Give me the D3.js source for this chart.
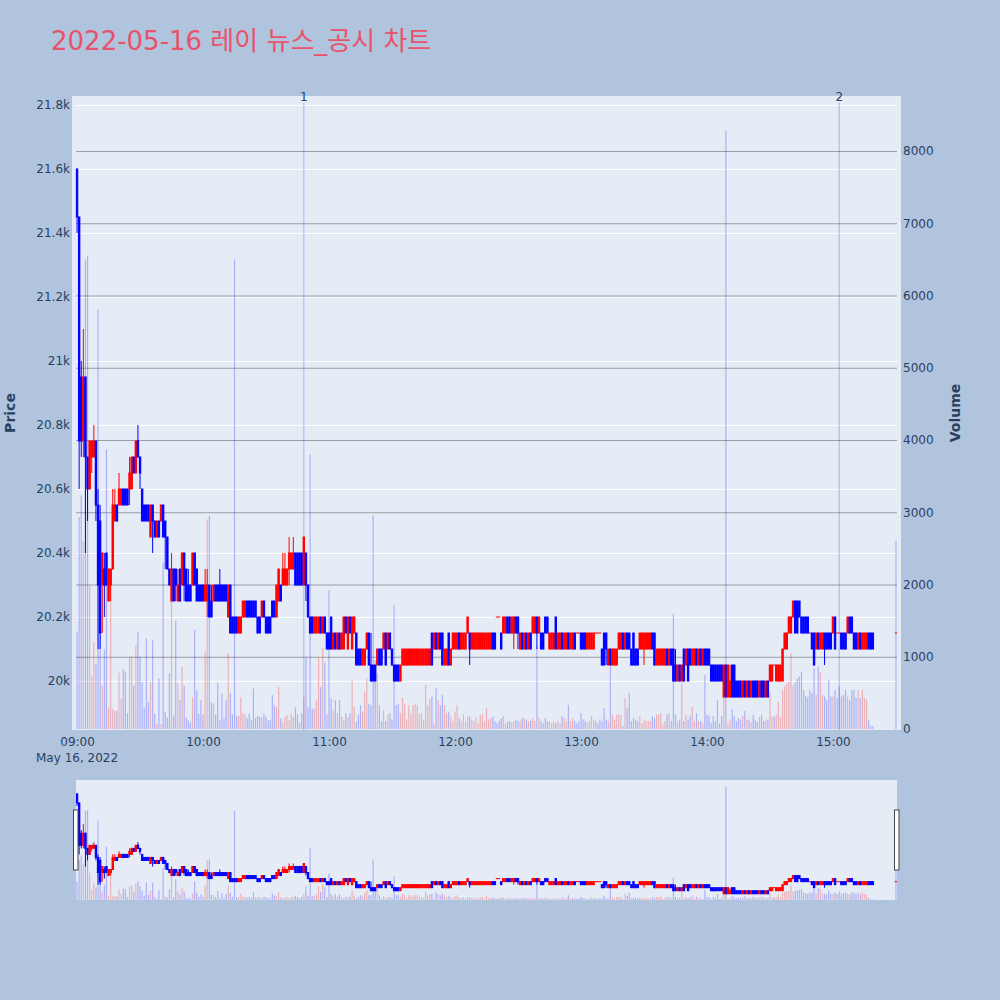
<!DOCTYPE html>
<html><head><meta charset="utf-8">
<script src="https://cdn.jsdelivr.net/npm/d3@7"></script>
<style>body{margin:0;background:#b0c4de}svg{display:block}</style>
</head><body>
<svg id="c" width="1000" height="1000"></svg>
<script>
// ---- data (1-minute candles, 2022-05-16, from 09:00) ----
const open = [
21600,21450,20950,20750,20950,20700,20600,20700,20700,20750,
20550,20500,20300,20350,20400,20250,20300,20350,20500,20550,
20550,20550,20600,20600,20600,20600,20600,20700,20650,20750,
20700,20600,20550,20550,20550,20450,20550,20500,20450,20500,
20500,20550,20500,20450,20350,20250,20350,20350,20250,20350,
20300,20400,20350,20300,20300,20300,20400,20350,20300,20300,
20300,20250,20250,20300,20250,20250,20300,20300,20300,20300,
20300,20300,20200,20300,20200,20200,20200,20150,20150,20200,
20200,20250,20250,20250,20250,20250,20200,20200,20200,20250,
20200,20200,20200,20250,20250,20200,20250,20300,20300,20300,
20300,20350,20350,20350,20400,20400,20400,20400,20300,20400,
20300,20200,20200,20150,20150,20150,20200,20150,20200,20150,
20150,20200,20100,20150,20100,20150,20100,20100,20200,20100,
20200,20100,20150,20150,20100,20100,20050,20050,20100,20150,
20050,20050,20050,20050,20100,20100,20100,20150,20100,20150,
20100,20050,20050,20050,20000,20050,20050,20050,20050,20050,
20050,20050,20050,20050,20050,20050,20050,20050,20050,20150,
20100,20150,20100,20150,20150,20050,20050,20150,20050,20100,
20100,20100,20150,20100,20100,20100,20150,20150,20100,20100,
20100,20100,20100,20100,20100,20100,20100,20100,20150,20150,
20200,20200,20150,20150,20150,20200,20200,20150,20150,20200,
20200,20100,20150,20100,20150,20100,20150,20150,20150,20200,
20150,20150,20150,20200,20200,20100,20100,20100,20200,20100,
20100,20150,20100,20100,20150,20100,20100,20150,20150,20150,
20150,20150,20150,20100,20100,20100,20100,20150,20150,20150,
20100,20150,20150,20050,20100,20050,20050,20050,20100,20100,
20150,20100,20150,20150,20100,20150,20100,20100,20100,20100,
20100,20100,20100,20100,20150,20150,20050,20050,20050,20050,
20050,20100,20050,20100,20100,20050,20000,20050,20000,20100,
20050,20100,20100,20050,20050,20100,20050,20100,20050,20100,
20100,20100,20050,20050,20050,20050,20050,20050,19950,20050,
19950,19950,20050,20050,20000,20000,20000,19950,20000,19950,
20000,19950,20000,20000,20000,19950,20000,20000,19950,20000,
20000,20000,20050,20000,20000,20000,20000,20100,20100,20150,
20150,20200,20250,20250,20250,20200,20200,20200,20200,20150,
20150,20150,20100,20150,20100,20100,20150,20150,20150,20150,
20150,20200,20150,20150,20150,20150,20150,20150,20200,20200,
20150,20150,20100,20150,20100,20100,20100,20150,20150,20150,
20150];
const high = [
21600,21450,21000,21100,20950,20700,20750,20750,20800,20750,
20600,20550,20400,20400,20400,20350,20350,20600,20600,20550,
20650,20600,20600,20600,20600,20700,20700,20700,20750,20800,
20700,20600,20550,20550,20550,20550,20550,20500,20500,20500,
20550,20550,20500,20450,20350,20400,20350,20350,20350,20350,
20400,20400,20350,20350,20300,20400,20400,20350,20300,20300,
20300,20350,20350,20300,20300,20300,20300,20300,20350,20300,
20300,20300,20300,20300,20200,20200,20200,20200,20200,20250,
20250,20250,20250,20250,20250,20250,20200,20200,20250,20250,
20200,20200,20200,20250,20250,20300,20350,20300,20400,20400,
20350,20450,20400,20450,20400,20400,20400,20400,20450,20400,
20300,20200,20200,20200,20200,20200,20200,20200,20200,20150,
20150,20200,20150,20150,20150,20150,20150,20200,20200,20200,
20200,20200,20200,20150,20100,20100,20100,20100,20150,20150,
20150,20050,20050,20100,20100,20100,20150,20150,20150,20150,
20100,20050,20050,20050,20050,20100,20100,20100,20100,20100,
20100,20100,20100,20100,20100,20100,20100,20100,20100,20150,
20150,20150,20150,20150,20150,20100,20100,20150,20100,20150,
20150,20150,20150,20150,20150,20150,20200,20150,20150,20150,
20150,20150,20150,20150,20150,20150,20150,20150,20150,20150,
20200,20200,20150,20200,20200,20200,20200,20200,20200,20200,
20200,20150,20150,20150,20150,20150,20150,20200,20200,20200,
20200,20150,20150,20200,20200,20150,20150,20150,20200,20150,
20150,20150,20150,20150,20150,20150,20150,20150,20150,20150,
20150,20150,20150,20150,20150,20150,20150,20150,20150,20150,
20100,20150,20150,20100,20100,20100,20100,20100,20150,20150,
20150,20150,20150,20150,20100,20150,20100,20100,20150,20150,
20150,20150,20150,20150,20150,20150,20100,20100,20100,20100,
20100,20100,20100,20100,20100,20100,20050,20050,20050,20100,
20100,20100,20100,20100,20100,20100,20100,20100,20100,20100,
20100,20100,20050,20050,20050,20050,20050,20050,20050,20050,
20050,20050,20050,20050,20000,20000,20000,20000,20000,20000,
20000,20000,20000,20000,20000,20000,20000,20000,20000,20000,
20050,20050,20050,20050,20050,20050,20100,20150,20150,20200,
20200,20250,20250,20250,20250,20200,20200,20200,20200,20150,
20150,20150,20150,20150,20150,20150,20150,20150,20150,20150,
20200,20200,20150,20150,20150,20150,20150,20200,20200,20200,
20150,20150,20150,20150,20150,20150,20150,20150,20150,20150,
20150];
const low = [
21400,20600,20700,20700,20400,20500,20600,20650,20700,20500,
20100,20100,20150,20200,20300,20250,20250,20350,20500,20500,
20550,20550,20550,20550,20550,20550,20600,20650,20650,20700,
20600,20500,20500,20500,20500,20450,20400,20450,20450,20450,
20500,20450,20350,20350,20300,20250,20250,20250,20250,20250,
20300,20250,20250,20250,20250,20300,20300,20250,20250,20250,
20250,20250,20200,20200,20200,20250,20250,20250,20250,20250,
20250,20250,20200,20150,20150,20150,20150,20150,20150,20200,
20200,20200,20200,20200,20200,20200,20150,20150,20200,20200,
20150,20150,20150,20200,20200,20200,20250,20250,20300,20300,
20300,20300,20350,20350,20300,20300,20300,20300,20300,20250,
20200,20150,20150,20150,20150,20150,20150,20150,20150,20100,
20100,20100,20100,20100,20100,20100,20100,20100,20150,20100,
20150,20100,20150,20050,20050,20050,20050,20050,20100,20050,
20000,20000,20000,20050,20050,20050,20100,20050,20100,20100,
20050,20000,20000,20000,20000,20050,20050,20050,20050,20050,
20050,20050,20050,20050,20050,20050,20050,20050,20050,20050,
20100,20100,20100,20100,20050,20050,20050,20050,20050,20100,
20100,20100,20100,20100,20100,20100,20150,20050,20100,20100,
20100,20100,20100,20100,20100,20100,20100,20100,20100,20100,
20200,20200,20100,20150,20150,20150,20150,20150,20100,20150,
20100,20100,20100,20100,20100,20100,20100,20150,20150,20100,
20150,20100,20100,20150,20150,20100,20100,20100,20100,20100,
20100,20100,20100,20100,20100,20100,20100,20100,20150,20150,
20100,20100,20100,20100,20100,20100,20100,20150,20150,20150,
20050,20050,20050,20050,20050,20050,20050,20050,20100,20100,
20100,20100,20100,20100,20050,20050,20050,20050,20100,20100,
20050,20100,20100,20100,20100,20050,20050,20050,20050,20050,
20050,20050,20050,20050,20000,20000,20000,20000,20000,20000,
20050,20000,20050,20050,20050,20050,20050,20050,20050,20050,
20050,20050,20000,20000,20000,20000,20000,20000,19950,19950,
19950,19950,19950,19950,19950,19950,19950,19950,19950,19950,
19950,19950,19950,19950,19950,19950,19950,19950,19950,19950,
20000,20000,20050,20000,20000,20000,20000,20100,20100,20150,
20150,20200,20150,20150,20200,20150,20150,20150,20150,20150,
20100,20050,20100,20100,20100,20100,20050,20100,20100,20100,
20150,20100,20150,20150,20100,20100,20100,20150,20150,20150,
20100,20100,20100,20100,20100,20100,20100,20100,20100,20100,
20150];
const close = [
21450,20750,20750,20950,20700,20600,20750,20750,20750,20550,
20300,20150,20400,20300,20300,20350,20350,20550,20550,20500,
20600,20600,20550,20550,20550,20650,20700,20650,20750,20700,
20650,20500,20500,20500,20500,20550,20500,20450,20500,20450,
20550,20450,20450,20350,20300,20350,20250,20300,20300,20250,
20400,20300,20250,20250,20250,20400,20300,20250,20250,20250,
20250,20300,20300,20200,20200,20300,20250,20250,20250,20250,
20250,20250,20300,20150,20150,20150,20150,20200,20200,20250,
20250,20200,20200,20200,20200,20200,20150,20150,20250,20200,
20150,20150,20150,20200,20200,20300,20350,20250,20350,20350,
20350,20400,20400,20400,20300,20300,20300,20300,20450,20300,
20200,20150,20150,20200,20200,20200,20150,20200,20150,20100,
20100,20100,20150,20100,20150,20100,20150,20200,20150,20200,
20150,20200,20200,20050,20050,20050,20100,20100,20150,20050,
20000,20000,20000,20100,20050,20050,20150,20050,20150,20100,
20050,20000,20000,20000,20050,20100,20100,20100,20100,20100,
20100,20100,20100,20100,20100,20100,20100,20100,20100,20050,
20150,20100,20150,20100,20050,20100,20100,20050,20100,20150,
20150,20150,20100,20150,20150,20150,20200,20100,20150,20150,
20150,20150,20150,20150,20150,20150,20150,20150,20100,20100,
20200,20200,20100,20200,20200,20150,20150,20200,20200,20150,
20150,20150,20100,20150,20100,20150,20100,20200,20200,20150,
20200,20100,20100,20150,20150,20150,20150,20150,20100,20150,
20150,20100,20150,20150,20100,20150,20150,20100,20150,20150,
20100,20100,20100,20150,20150,20150,20150,20150,20150,20150,
20050,20050,20100,20100,20050,20100,20100,20100,20150,20150,
20100,20150,20100,20100,20050,20050,20050,20050,20150,20150,
20150,20150,20150,20150,20100,20050,20100,20100,20100,20100,
20100,20050,20100,20050,20000,20000,20050,20000,20050,20000,
20100,20000,20050,20100,20100,20050,20100,20050,20100,20050,
20050,20050,20000,20000,20000,20000,20000,20000,20050,19950,
20050,20000,19950,19950,19950,19950,19950,20000,19950,20000,
19950,20000,19950,19950,19950,20000,19950,19950,20000,19950,
20050,20050,20050,20050,20050,20050,20100,20150,20150,20200,
20200,20250,20150,20150,20200,20150,20150,20150,20150,20150,
20100,20050,20150,20100,20150,20150,20100,20100,20100,20100,
20200,20100,20150,20150,20100,20100,20100,20200,20150,20150,
20100,20100,20150,20100,20150,20150,20150,20100,20100,20100,
20150];
const volume = [
1350,2930,3230,2600,6500,6550,1980,740,1200,900,
5800,1300,600,1100,3870,300,2210,280,250,250,
780,420,830,790,220,1000,1000,600,1160,1350,
1000,650,300,1255,370,650,1230,210,70,700,
70,2300,230,160,770,1790,190,1500,630,400,
860,600,160,120,90,440,1370,530,210,400,
200,1070,2900,2950,370,350,200,640,120,490,
150,400,1050,500,200,6500,180,180,440,220,
200,150,215,120,560,150,180,170,160,210,
170,120,120,470,330,300,580,150,100,170,
190,120,210,170,300,200,80,220,440,990,
300,3800,280,280,400,990,580,1130,920,200,
1920,420,260,400,220,400,170,120,220,170,
220,670,310,100,200,330,240,520,700,350,
330,2960,950,770,330,110,270,110,200,220,
130,1720,330,350,220,430,350,130,330,220,
330,350,330,200,220,130,610,330,420,450,
80,565,400,330,470,330,220,240,170,110,
240,330,150,110,200,110,170,180,130,110,
170,80,200,200,110,290,130,150,170,110,
80,110,150,180,80,100,110,90,110,130,
110,110,150,150,130,110,110,150,110,1140,
150,110,80,150,110,110,80,110,80,110,
80,180,150,110,335,110,150,110,80,110,
220,130,110,80,110,180,130,110,80,130,
110,290,130,110,860,200,130,200,200,200,
40,430,290,500,110,150,130,110,180,80,
130,110,110,110,180,150,200,200,220,60,
110,200,220,110,1590,200,110,130,630,110,
200,130,180,310,110,220,110,110,80,750,
200,180,80,180,110,400,80,180,450,8280,
80,130,280,180,110,150,130,180,250,130,
130,100,200,130,100,170,200,110,130,130,
500,170,170,200,375,170,540,590,630,650,
1050,600,650,700,725,790,540,460,440,540,
500,840,470,860,790,470,450,400,680,450,
450,540,430,590,450,470,540,450,400,540,
540,430,540,430,540,430,400,130,40,40,
2600];
// minute offsets from 09:00 (continuous session, then 15:30 closing auction)
const minuteIdx = d3.range(380).concat([390]);
const priceTicks = [20000,20200,20400,20600,20800,21000,21200,21400,21600,21800];
const volumeTicks = [0,1000,2000,3000,4000,5000,6000,7000,8000];
const hourTicks = ["09:00","10:00","11:00","12:00","13:00","14:00","15:00"];
const newsTimes = ["10:48","15:03"];
const newsLabels = ["1","2"];
const titleText = "2022-05-16 레이 뉴스_공시 차트";

// ---- drawing ----
const FONT = '"DejaVu Sans", "Noto Sans CJK KR", sans-serif';
const INK = "#2a3f5f";
const svg = d3.select("#c");
const day = "2022-05-16";
const parseT = d3.timeParse("%Y-%m-%d %H:%M");
const t0 = parseT(day + " 09:00");
const tAt = m => new Date(t0.getTime() + m * 60000);
const data = minuteIdx.map((m, i) => ({t: tAt(m), o: open[i], h: high[i], l: low[i], c: close[i], v: volume[i]}));

const X0 = 76, X1 = 897;
const x = d3.scaleTime().domain([tAt(-0.5), tAt(390.5)]).range([X0, X1]);
const PRICE_DOM = [19847, 21828], VOL_DOM = [0, 8761];
const yP = d3.scaleLinear().domain(PRICE_DOM).range([730, 96]);
const yV = d3.scaleLinear().domain(VOL_DOM).range([729, 96]);
const yPs = d3.scaleLinear().domain(PRICE_DOM).range([900, 780]);
const yVs = d3.scaleLinear().domain(VOL_DOM).range([899.8, 780]);

// title
svg.append("text").attr("x", 51).attr("y", 50).text(titleText)
  .attr("font-family", FONT).attr("font-size", 26).attr("fill", "#e8526b");

// plot background
svg.append("rect").attr("x", 72).attr("y", 96).attr("width", 829).attr("height", 634).attr("fill", "#e5ecf6");

// white price grid
const gGrid = svg.append("g").attr("transform", `translate(${X0},0)`)
  .call(d3.axisLeft(yP).tickValues(priceTicks).tickSize(-(X1 - X0)).tickFormat(""));
gGrid.select(".domain").remove();
gGrid.selectAll("line").attr("stroke", "#ffffff").attr("stroke-width", 1);
// grey volume grid
const gGrid2 = svg.append("g").attr("transform", `translate(${X1},0)`)
  .call(d3.axisRight(yV).tickValues(volumeTicks.filter(v => v > 0)).tickSize(-(X1 - X0)).tickFormat(""));
gGrid2.select(".domain").remove();
gGrid2.selectAll("line").attr("stroke", "#9c9ea4").attr("stroke-width", 1.2);

const RED = "#ff0000", BLUE = "#0000ff";
function drawPanel(g, yp, yv, main) {
  g.append("g").selectAll("rect").data(data).join("rect")
    .attr("x", d => x(d.t) - 0.6).attr("width", 1.2)
    .attr("y", d => yv(d.v)).attr("height", d => yv(0) - yv(d.v))
    .attr("fill", d => d.c > d.o ? "rgba(255,0,0,0.25)" : "rgba(0,0,255,0.25)");
  if (main) {
    const gn = g.append("g");
    newsTimes.forEach((s, i) => {
      const xx = x(parseT(day + " " + s));
      gn.append("line").attr("x1", xx).attr("x2", xx).attr("y1", 103).attr("y2", 730)
        .attr("stroke", "rgba(40,60,230,0.28)").attr("stroke-width", 1.2);
      gn.append("text").attr("x", xx).attr("y", 101).attr("text-anchor", "middle")
        .attr("font-family", FONT).attr("font-size", 12).attr("fill", INK).text(newsLabels[i]);
    });
  }
  const gc = g.append("g");
  gc.selectAll("line").data(data).join("line")
    .attr("x1", d => x(d.t)).attr("x2", d => x(d.t))
    .attr("y1", d => yp(d.h)).attr("y2", d => yp(d.l))
    .attr("stroke", d => d.c >= d.o ? RED : BLUE).attr("stroke-width", 1);
  gc.selectAll("rect").data(data).join("rect")
    .attr("x", d => x(d.t) - 0.7).attr("width", 1.4)
    .attr("y", d => yp(Math.max(d.o, d.c)))
    .attr("height", d => Math.max(0.01, yp(Math.min(d.o, d.c)) - yp(Math.max(d.o, d.c))))
    .attr("fill", d => d.c >= d.o ? RED : BLUE)
    .attr("stroke", d => d.c >= d.o ? RED : BLUE).attr("stroke-width", 1);
}
drawPanel(svg.append("g"), yP, yV, true);

// axes
function styleAxis(g) {
  g.select(".domain").remove();
  g.selectAll("text").attr("font-family", FONT).attr("font-size", 12).attr("fill", INK);
}
svg.append("g").attr("transform", `translate(${X0},0)`)
  .call(d3.axisLeft(yP).tickValues(priceTicks).tickSize(0).tickPadding(6)
    .tickFormat(d => (d / 1000) + "k")).call(styleAxis);
svg.append("g").attr("transform", `translate(${X1},0)`)
  .call(d3.axisRight(yV).tickValues(volumeTicks).tickSize(0).tickPadding(6)
    .tickFormat(d3.format("d"))).call(styleAxis);
const hourDates = hourTicks.map(s => parseT(day + " " + s));
const gx = svg.append("g").attr("transform", "translate(0,730)")
  .call(d3.axisBottom(x).tickValues(hourDates).tickSize(0).tickPadding(7.5)
    .tickFormat(d3.timeFormat("%H:%M"))).call(styleAxis);
svg.append("text").attr("x", x(hourDates[0])).attr("y", 762).attr("text-anchor", "middle")
  .attr("font-family", FONT).attr("font-size", 12).attr("fill", INK).text("May 16, 2022");

// axis titles
svg.append("text").attr("transform", "translate(15,413) rotate(-90)").attr("text-anchor", "middle")
  .attr("font-family", FONT).attr("font-size", 14).attr("font-weight", "bold").attr("fill", INK).text("Price");
svg.append("text").attr("transform", "translate(960,413) rotate(-90)").attr("text-anchor", "middle")
  .attr("font-family", FONT).attr("font-size", 14).attr("font-weight", "bold").attr("fill", INK).text("Volume");

// range slider
svg.append("rect").attr("x", X0).attr("y", 780).attr("width", X1 - X0).attr("height", 120).attr("fill", "#e5ecf6");
const gs = svg.append("g");
gs.append("clipPath").attr("id", "sclip").append("rect").attr("x", X0).attr("y", 780).attr("width", X1 - X0).attr("height", 120);
drawPanel(gs.append("g").attr("clip-path", "url(#sclip)"), yPs, yVs, false);
[X0 - 2.5, X1 - 2.5].forEach(hx => {
  svg.append("rect").attr("x", hx).attr("y", 810).attr("width", 4.5).attr("height", 60)
    .attr("fill", "#ffffff").attr("stroke", "#444").attr("stroke-width", 1);
});
</script>
</body></html>
